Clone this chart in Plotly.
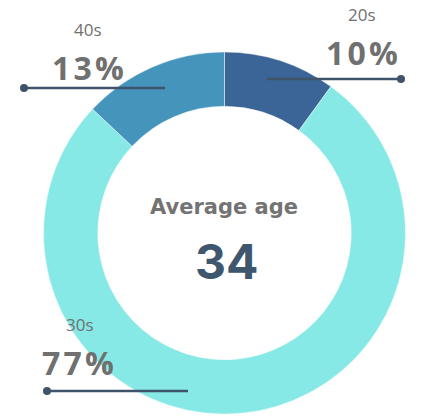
import plotly.graph_objects as go

# ─── data ─────────────────────────────────────────────
groups = ["20s", "30s", "40s"]
shares = [10, 77, 13]
colors = ["#3b6596", "#86e9e6", "#4494bc"]
avg_age = 34

W, H = 424, 420


def px(x, y):
    # pixel position -> paper coords (no margins)
    return x / W, 1 - y / H


# ─── donut ────────────────────────────────────────────
cx, cy, r = 224.5, 233, 181
fig = go.Figure(
    go.Pie(
        labels=groups, values=shares,
        hole=0.70, sort=False, direction="clockwise", rotation=0,
        marker=dict(colors=colors, line=dict(color="rgba(255,255,255,0.45)", width=1)),
        textinfo="none", hoverinfo="label+percent",
        domain=dict(x=[(cx - r) / W, (cx + r) / W],
                    y=[1 - (cy + r) / H, 1 - (cy - r) / H]),
        showlegend=False,
    )
)

# ─── labels with leader lines ─────────────────────────
# (group name pos, percent pos, line from x, line to x, line y, dot x)
label_pos = {
    "20s": ((362, 15), (362, 52), 267, 401, 79, 401),
    "30s": ((80, 324), (78, 362), 47, 188, 391, 47),
    "40s": ((88, 30), (88, 68), 24, 165, 88, 24),
}

line_col = "#3f5369"
for g, s in zip(groups, shares):
    (nx, ny), (vx, vy), x0, x1, ly, dx = label_pos[g]
    ax, ay = px(nx, ny)
    fig.add_annotation(x=ax, y=ay, xref="paper", yref="paper", text=g,
                       showarrow=False, xanchor="center", yanchor="middle",
                       font=dict(family="Open Sans", size=17, color="#707070"))
    ax, ay = px(vx, vy)
    spaced = "\u200a".join(f"{s}%")  # wide letter spacing like the original
    fig.add_annotation(x=ax, y=ay, xref="paper", yref="paper", text=spaced,
                       showarrow=False, xanchor="center", yanchor="middle",
                       font=dict(family="Open Sans", size=32, color="#707070", weight=700))
    p0, p1 = px(x0, ly), px(x1, ly)
    fig.add_shape(type="line", xref="paper", yref="paper",
                  x0=p0[0], y0=p0[1], x1=p1[0], y1=p1[1],
                  line=dict(color=line_col, width=2.5))
    d0, d1 = px(dx - 4, ly - 4), px(dx + 4, ly + 4)
    fig.add_shape(type="circle", xref="paper", yref="paper",
                  x0=d0[0], y0=d1[1], x1=d1[0], y1=d0[1],
                  fillcolor=line_col, line=dict(color=line_col, width=0))

# ─── centre text ──────────────────────────────────────
ax, ay = px(224, 207)
fig.add_annotation(x=ax, y=ay, xref="paper", yref="paper", text="<b>Average age</b>",
                   showarrow=False, xanchor="center", yanchor="middle",
                   font=dict(family="DejaVu Sans", size=21, color="#737373"))
ax, ay = px(226, 261)
fig.add_annotation(x=ax, y=ay, xref="paper", yref="paper", text=f"<b>{avg_age}</b>",
                   showarrow=False, xanchor="center", yanchor="middle",
                   font=dict(family="Inter", size=48, color="#3e566e"))

fig.update_layout(
    width=W, height=H,
    margin=dict(l=0, r=0, t=0, b=0),
    paper_bgcolor="white", plot_bgcolor="white",
)

# drop the default 8px page margin so the figure sits at the top-left corner
fig.write_html("out.html", config={"displayModeBar": False},
               post_script="document.body.style.margin='0';document.body.style.overflow='hidden';")
